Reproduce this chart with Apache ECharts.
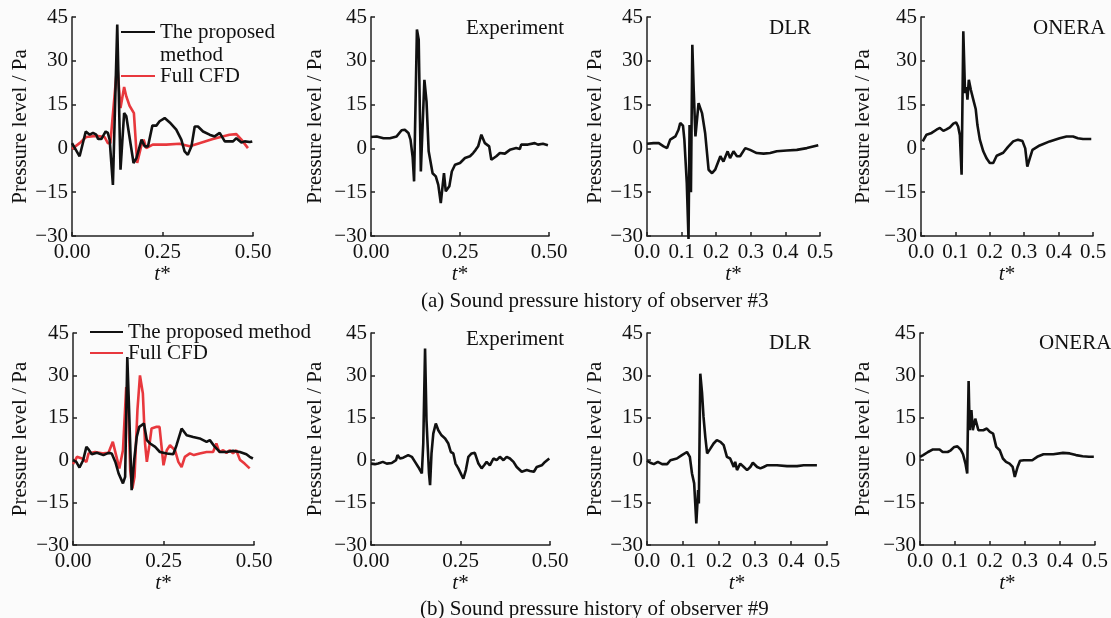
<!DOCTYPE html>
<html><head><meta charset="utf-8">
<script src="https://cdn.jsdelivr.net/npm/echarts@6/dist/echarts.min.js"></script>
<style>html,body{margin:0;padding:0;background:#fbfbfb}#c{width:1111px;height:618px}</style>
</head><body><div id="c"></div>
<script>
// ---- tick / text definitions ----
const yTicks = [-30, -15, 0, 15, 30, 45];
const xTicksCoarse = [0, 0.25, 0.5];
const xTicksFine = [0, 0.1, 0.2, 0.3, 0.4, 0.5];
const panelTitles = ['Experiment', 'DLR', 'ONERA'];
const legendNames = ['The proposed method', 'Full CFD'];
const captions = ['(a) Sound pressure history of observer #3', '(b) Sound pressure history of observer #9'];

// ---- (a) observer #3 ----
const tA_prop = [0,0.021,0.038,0.049,0.058,0.067,0.072,0.081,0.093,0.099,0.104,0.113,0.125,0.134,0.144,0.150,0.170,0.178,0.192,0.201,0.210,0.222,0.233,0.242,0.256,0.270,0.288,0.302,0.311,0.320,0.330,0.339,0.348,0.362,0.380,0.394,0.408,0.422,0.436,0.445,0.454,0.468,0.477,0.491,0.498];
const pA_prop = [1.8,-2.7,5.8,4.7,5.3,4.7,3.2,3.2,5.8,5.3,3.0,-12.5,42.4,-7.3,12.1,11.0,-5.0,-3.3,3.0,0.7,0.7,7.8,7.8,9.3,10.4,8.9,6.4,3.0,-1.0,-2.2,0.7,7.5,7.5,5.8,4.7,4.1,5.3,2.4,2.4,2.4,3.5,2.0,2.4,2.2,2.4];
const tA_cfd = [0,0.021,0.039,0.067,0.090,0.099,0.106,0.125,0.134,0.144,0.150,0.159,0.171,0.180,0.191,0.198,0.205,0.223,0.260,0.297,0.325,0.352,0.389,0.435,0.454,0.468,0.486];
const pA_cfd = [-0.2,1.8,3.9,4.3,3.9,1.8,1.8,28.7,13.8,21.0,17.8,14.6,12.1,-5.0,0.7,3.0,0.1,1.3,1.3,1.6,0.7,1.8,3.2,4.7,4.9,3.0,0.1];
const tA_exp = [0,0.016,0.035,0.053,0.072,0.086,0.095,0.105,0.111,0.117,0.121,0.129,0.134,0.140,0.150,0.156,0.162,0.173,0.182,0.189,0.196,0.205,0.210,0.220,0.227,0.236,0.250,0.264,0.278,0.287,0.294,0.301,0.310,0.320,0.332,0.338,0.352,0.362,0.376,0.390,0.408,0.418,0.422,0.441,0.460,0.469,0.483,0.497];
const pA_exp = [3.9,4.1,3.5,3.5,4.1,6.2,6.4,5.3,3.0,-3.0,-11.3,40.7,37.3,-7.9,23.5,16.0,-1.0,-8.5,-9.6,-12.5,-18.7,-8.5,-14.7,-13.0,-7.9,-5.6,-5.0,-3.3,-2.7,-1.6,-0.5,0.7,4.7,1.8,0.7,-3.9,-2.7,-1.6,-1.8,-0.5,0.1,-0.2,1.3,1.3,1.8,1.3,1.6,1.1];
const tA_dlr = [0,0.019,0.034,0.048,0.058,0.067,0.082,0.091,0.096,0.104,0.108,0.115,0.120,0.123,0.127,0.131,0.135,0.140,0.149,0.159,0.168,0.178,0.188,0.197,0.212,0.221,0.233,0.240,0.250,0.260,0.269,0.284,0.298,0.317,0.337,0.356,0.375,0.404,0.433,0.462,0.495];
const pA_dlr = [1.6,1.8,1.8,0.7,0.1,3.0,4.1,6.4,8.7,7.8,3.0,-11.9,-31.0,8.0,-15.0,35.5,20.0,4.1,15.5,12.1,5.3,-7.3,-8.5,-7.3,-2.7,-4.5,-1.0,-3.3,-1.0,-2.7,-2.7,0.1,-0.5,-1.6,-1.8,-1.6,-1.0,-0.7,-0.5,0.1,1.1];
const tA_onera = [0.005,0.016,0.031,0.045,0.055,0.065,0.074,0.084,0.094,0.102,0.108,0.113,0.118,0.123,0.128,0.132,0.135,0.139,0.145,0.152,0.159,0.164,0.171,0.181,0.191,0.200,0.210,0.220,0.239,0.253,0.268,0.282,0.295,0.303,0.309,0.316,0.324,0.345,0.374,0.403,0.423,0.442,0.456,0.471,0.495];
const pA_onera = [2.4,4.7,5.3,6.4,7.0,6.0,6.5,7.2,8.5,8.9,7.5,4.5,-9.0,40.1,19.0,21.0,16.7,23.5,20.0,16.7,13.5,8.0,3.0,-1.0,-3.5,-5.0,-5.0,-2.5,-1.5,0.5,2.4,3.0,2.5,0.0,-6.2,-3.5,-0.5,1.0,2.4,3.5,4.1,4.1,3.5,3.2,3.2];

// ---- (b) observer #9 ----
const tB_prop = [0,0.009,0.018,0.028,0.037,0.043,0.052,0.066,0.084,0.098,0.107,0.117,0.126,0.138,0.144,0.150,0.155,0.162,0.169,0.176,0.183,0.190,0.196,0.204,0.213,0.227,0.240,0.259,0.277,0.286,0.300,0.314,0.332,0.350,0.369,0.378,0.392,0.406,0.424,0.442,0.461,0.479,0.488,0.497];
const pB_prop = [0,-0.6,-2.6,0,4.7,3.8,2.1,2.6,1.8,2.6,2.4,-0.6,-4.7,-8.2,-5.9,36.5,17.7,-10.6,0,8.2,11.8,12.4,13.0,7.1,5.9,4.7,2.9,2.4,2.1,5.3,11.2,8.8,8.2,7.7,6.5,7.1,4.7,2.9,2.9,3.3,2.9,2.1,1.2,0.6];
const tB_cfd = [0,0.011,0.025,0.037,0.043,0.061,0.084,0.098,0.110,0.119,0.128,0.138,0.147,0.152,0.158,0.164,0.170,0.178,0.185,0.193,0.199,0.204,0.211,0.217,0.231,0.239,0.250,0.259,0.268,0.282,0.291,0.300,0.309,0.323,0.334,0.350,0.369,0.387,0.396,0.404,0.415,0.424,0.433,0.442,0.451,0.461,0.474,0.488];
const pB_cfd = [-1.4,1.2,0.6,-0.6,2.4,2.9,2.4,2.6,6.5,1.8,-2.9,3.5,25.9,22.4,-3.5,-10.0,-5.9,17.7,30.0,23.6,5.9,-0.6,5.3,11.2,11.8,11.8,-1.8,3.5,5.3,3.5,-0.6,-2.4,1.2,2.4,1.8,2.4,2.9,2.9,5.9,2.9,3.5,2.6,3.5,2.4,3.5,0.2,-1.2,-2.9];
const tB_exp = [0,0.011,0.020,0.033,0.044,0.058,0.070,0.074,0.081,0.090,0.104,0.114,0.123,0.132,0.142,0.146,0.151,0.155,0.162,0.165,0.169,0.174,0.181,0.188,0.197,0.207,0.216,0.223,0.230,0.236,0.244,0.253,0.258,0.265,0.272,0.281,0.290,0.300,0.309,0.316,0.323,0.332,0.342,0.351,0.360,0.370,0.379,0.388,0.398,0.407,0.421,0.435,0.444,0.455,0.463,0.477,0.486,0.498];
const pB_exp = [-1.2,-1.4,-1.2,-0.6,-1.2,-1.0,0,1.8,0.6,0.9,1.8,1.2,-0.6,-2.4,-4.7,5.9,39.5,14.1,-4.7,-8.8,2.4,9.4,13.0,10.6,8.8,7.7,5.9,2.9,2.4,-1.2,-2.9,-5.3,-6.5,-3.5,1.2,2.4,2.6,-1.2,-2.9,-1.8,-0.6,-1.8,0.6,0,1.2,0,1.2,0.6,-0.6,-2.4,-4.1,-3.5,-3.8,-4.1,-2.4,-1.8,-0.6,0.6];
const tB_dlr = [0,0.009,0.019,0.030,0.042,0.056,0.065,0.083,0.097,0.111,0.119,0.125,0.131,0.137,0.142,0.144,0.148,0.153,0.157,0.162,0.167,0.176,0.185,0.194,0.204,0.213,0.222,0.231,0.241,0.245,0.250,0.259,0.269,0.278,0.287,0.294,0.306,0.315,0.324,0.333,0.361,0.389,0.417,0.435,0.472];
const pB_dlr = [-0.2,-0.9,-1.4,-0.6,-1.4,-1.4,0,0.6,1.8,2.9,1.2,-4.7,-8.2,-22.4,-10.6,-15.3,30.6,23.6,15.3,8.2,2.4,4.1,5.9,7.1,6.5,5.3,1.2,0.6,-2.4,-0.6,-3.5,-1.2,-2.4,-3.5,-2.4,-0.9,-2.4,-2.9,-2.4,-1.8,-1.8,-2.1,-2.1,-1.8,-1.8];
const tB_onera = [0,0.009,0.023,0.037,0.056,0.065,0.079,0.088,0.098,0.107,0.116,0.123,0.130,0.135,0.137,0.139,0.142,0.147,0.151,0.158,0.167,0.181,0.191,0.200,0.209,0.218,0.228,0.237,0.246,0.256,0.265,0.271,0.279,0.286,0.297,0.321,0.335,0.353,0.381,0.409,0.428,0.446,0.465,0.483,0.497];
const pB_onera = [1.2,1.8,2.9,3.8,3.8,2.9,2.9,3.5,4.7,4.9,3.8,2.1,-1.2,-4.7,13.0,28.0,10.6,17.7,10.6,14.7,10.6,10.6,11.2,10.0,9.4,4.7,3.5,0.6,-0.6,-1.2,-2.4,-5.9,-2.4,-0.2,0,0,1.2,2.1,2.1,2.6,2.4,1.8,1.4,1.2,1.2];

// ---- build options ----
const FONT = 'Liberation Serif';
const INK = '#111';
const RED = '#e8383d';
const LW = 2.6;
const zip = (t, p) => t.map((v, i) => [v, p[i]]);

// panel geometry (pixels)
const panels = [
  {left: 72,  top: 17,  w: 181, h: 219, fine: false, ng: 40, xg: 27},
  {left: 371, top: 17,  w: 178, h: 219, fine: false, ng: 45, xg: 27},
  {left: 647, top: 17,  w: 173, h: 219, fine: true,  ng: 41, xg: 27},
  {left: 921, top: 17,  w: 172, h: 219, fine: true,  ng: 47, xg: 27},
  {left: 73,  top: 333, w: 181, h: 212, fine: false, ng: 42, xg: 25},
  {left: 371, top: 333, w: 179, h: 212, fine: false, ng: 45, xg: 25},
  {left: 647, top: 333, w: 180, h: 212, fine: true,  ng: 41, xg: 25},
  {left: 920, top: 333, w: 179, h: 212, fine: true,  ng: 46, xg: 25}
];

const grid = panels.map(p => ({left: p.left, top: p.top, width: p.w, height: p.h, containLabel: false}));
const axisLine = {show: true, onZero: false, lineStyle: {color: '#222', width: 1.5}};
const axisTick = {show: true, inside: true, length: 4, lineStyle: {color: '#222', width: 1.5}};
const xAxis = panels.map((p, i) => {
  const ticks = p.fine ? xTicksFine : xTicksCoarse;
  return {
    type: 'value', gridIndex: i, min: ticks[0], max: ticks[ticks.length - 1], interval: ticks[1] - ticks[0],
    axisLine, axisTick, splitLine: {show: false},
    axisLabel: {formatter: v => v.toFixed(p.fine ? 1 : 2), fontFamily: FONT, fontSize: 21, color: INK, margin: 6},
    name: '{i|t}*', nameLocation: 'middle', nameGap: p.xg,
    nameTextStyle: {fontFamily: FONT, fontSize: 21, color: INK, rich: {i: {fontFamily: FONT, fontSize: 21, fontStyle: 'italic', color: INK}}}
  };
});
const yAxis = panels.map((p, i) => ({
  type: 'value', gridIndex: i, min: yTicks[0], max: yTicks[yTicks.length - 1], interval: yTicks[1] - yTicks[0],
  axisLine, axisTick, splitLine: {show: false},
  axisLabel: {formatter: v => v < 0 ? '\u2212' + Math.abs(v) : String(v), fontFamily: FONT, fontSize: 21, color: INK, margin: 4},
  name: 'Pressure level / Pa', nameLocation: 'middle', nameGap: p.ng, nameRotate: 90,
  nameTextStyle: {fontFamily: FONT, fontSize: 21, color: INK}
}));

const mk = (name, idx, data, color) => ({
  name, type: 'line', xAxisIndex: idx, yAxisIndex: idx, data, symbol: 'none', showSymbol: false,
  clip: false, lineStyle: {color, width: LW}, itemStyle: {color}, emphasis: {disabled: true}
});
const series = [
  mk(legendNames[1], 0, zip(tA_cfd, pA_cfd), RED),
  mk(legendNames[0], 0, zip(tA_prop, pA_prop), INK),
  mk('Experiment a', 1, zip(tA_exp, pA_exp), INK),
  mk('DLR a', 2, zip(tA_dlr, pA_dlr), INK),
  mk('ONERA a', 3, zip(tA_onera, pA_onera), INK),
  mk(legendNames[1], 4, zip(tB_cfd, pB_cfd), RED),
  mk(legendNames[0], 4, zip(tB_prop, pB_prop), INK),
  mk('Experiment b', 5, zip(tB_exp, pB_exp), INK),
  mk('DLR b', 6, zip(tB_dlr, pB_dlr), INK),
  mk('ONERA b', 7, zip(tB_onera, pB_onera), INK)
];

const richLeg = {
  z: {fontFamily: FONT, fontSize: 21, lineHeight: 23, color: 'rgba(0,0,0,0)'},
  a: {fontFamily: FONT, fontSize: 21, lineHeight: 23, color: INK}
};
const legText = {fontFamily: FONT, fontSize: 21, color: INK, lineHeight: 23, rich: richLeg};
const legBase = {padding: 0, itemHeight: 2, icon: 'rect', selectedMode: false, textStyle: legText};
const legend = [
  Object.assign({data: [legendNames[0]], left: 121, top: -2.5, itemWidth: 34,
    formatter: () => '{z| }\n{a|The proposed}\n{a|method}'}, legBase),
  Object.assign({data: [legendNames[1]], left: 121, top: 64.5, itemWidth: 34}, legBase),
  Object.assign({data: [legendNames[0]], left: 90, top: 320.5, itemWidth: 33}, legBase),
  Object.assign({data: [legendNames[1]], left: 90, top: 341.5, itemWidth: 33}, legBase)
];

const tStyle = {fontFamily: FONT, fontSize: 21, fontWeight: 'normal', color: INK, lineHeight: 24};
const title = [
  {text: panelTitles[0], left: 466, top: 16},
  {text: panelTitles[1], left: 769, top: 16},
  {text: panelTitles[2], left: 1033, top: 16},
  {text: panelTitles[0], left: 466, top: 327},
  {text: panelTitles[1], left: 769, top: 331},
  {text: panelTitles[2], left: 1039, top: 331},
  {text: captions[0], left: 421, top: 289},
  {text: captions[1], left: 420, top: 597}
].map(t => Object.assign(t, {padding: 0, textStyle: tStyle}));

const chart = echarts.init(document.getElementById('c'), null, {renderer: 'canvas'});
chart.setOption({backgroundColor: '#fbfbfb', animation: false, title, legend, grid, xAxis, yAxis, series});
</script></body></html>
